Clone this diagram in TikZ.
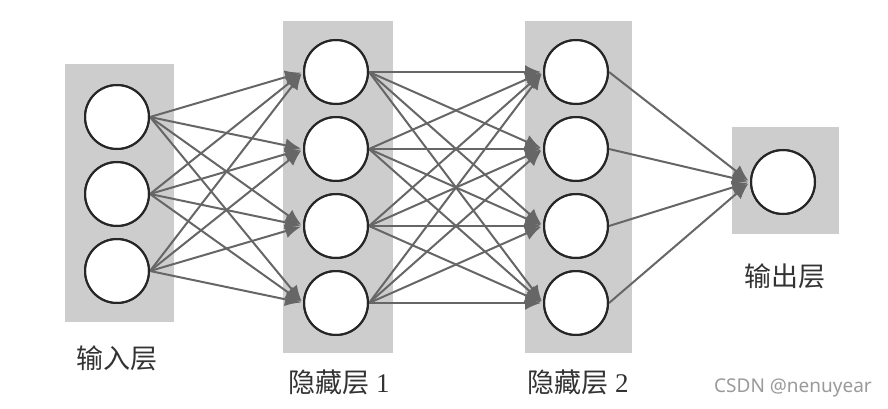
\documentclass[tikz,border=0pt]{standalone}
\usepackage{fontspec}
\setmainfont{Liberation Serif}
\newfontfamily\cjk{Noto Sans CJK SC}
\newfontfamily\wmfont{Noto Sans}
\usetikzlibrary{arrows.meta}
\definecolor{panel}{HTML}{CDCDCD}
\definecolor{edge}{HTML}{666666}
\definecolor{wm}{HTML}{9A9A9A}
\begin{document}
\begin{tikzpicture}[x=1pt,y=-1pt,
  neuron/.style={circle,draw=black!85,line width=2pt,fill=white,minimum size=64pt,inner sep=0pt},
  panelbox/.style={fill=panel,draw=none},
  link/.style={draw=edge,line width=2pt,-{Latex[length=16pt,width=14pt]},shorten >=2pt},
  lbl/.style={font=\fontsize{27}{30}\selectfont,text=black!80,inner sep=0pt}]
\fill[white] (0,0) rectangle (888,409);
\useasboundingbox (0,0) rectangle (888,409);
% panels
\fill[panelbox] (65,64) rectangle (174,322);
\fill[panelbox] (283,21) rectangle (393,353);
\fill[panelbox] (525,21) rectangle (632,353);
\fill[panelbox] (732,127) rectangle (839,234);
% neurons
\node[neuron] (i1) at (117,117) {};
\node[neuron] (i2) at (117,194) {};
\node[neuron] (i3) at (117,271) {};
\node[neuron] (h1) at (336,72) {};
\node[neuron] (h2) at (336,149) {};
\node[neuron] (h3) at (336,226) {};
\node[neuron] (h4) at (336,303) {};
\node[neuron] (g1) at (576,72) {};
\node[neuron] (g2) at (576,149) {};
\node[neuron] (g3) at (576,226) {};
\node[neuron] (g4) at (576,303) {};
\node[neuron] (o) at (783,182) {};
% connections
\foreach \a in {i1,i2,i3}{\foreach \b in {h1,h2,h3,h4}{\draw[link] (\a.east) -- (\b.west);}}
\foreach \a in {h1,h2,h3,h4}{\foreach \b in {g1,g2,g3,g4}{\draw[link] (\a.east) -- (\b.west);}}
\foreach \a in {g1,g2,g3,g4}{\draw[link] (\a.east) -- (o.west);}
% redraw neurons on top
\foreach \n in {i1,i2,i3,h1,h2,h3,h4,g1,g2,g3,g4,o}{\draw[black!85,line width=2pt] (\n) circle (32pt);}
% labels
\node[lbl] (l1) at (117,358) {{\cjk 输入层}};
\node[lbl] (l2) at (339,382) {{\cjk 隐藏层} 1};
\node[lbl] (l3) at (578,382) {{\cjk 隐藏层} 2};
\node[lbl] (l4) at (785,276) {{\cjk 输出层}};
\node[font=\wmfont\fontsize{19}{22}\selectfont,text=wm,inner sep=0pt] (wmk) at (793,388) {CSDN @nenuyear};
\end{tikzpicture}
\end{document}
